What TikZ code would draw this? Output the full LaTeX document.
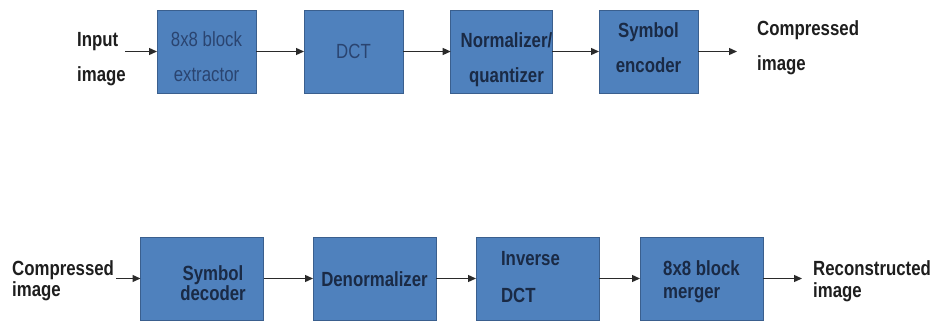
\documentclass[tikz,border=0pt]{standalone}
\usepackage{fontspec}
\setmainfont{Liberation Sans}[FakeStretch=0.82]
\usetikzlibrary{arrows.meta}
\definecolor{boxfill}{HTML}{4F81BD}
\definecolor{boxline}{HTML}{3A5F8E}
\definecolor{boxtext}{HTML}{1A2A45}
\definecolor{boxlight}{HTML}{2A4470}
\definecolor{outtext}{HTML}{1E1E1E}
\definecolor{arrowcol}{HTML}{2A2A2A}
\newcommand\MyTop[1]{\rule{0pt}{#1pt}}
\newcommand\MyBot[1]{\rule[-#1pt]{0pt}{#1pt}}
\tikzset{
  box/.style={draw=boxline, fill=boxfill, line width=1pt, inner sep=0pt, outer sep=0pt,
    align=center, text=boxtext, font=\fontsize{20.5}{35}\selectfont\bfseries},
  topbox/.style={box, minimum width=99pt, minimum height=83pt},
  botbox/.style={box, minimum width=123pt, minimum height=83pt},
  lighttext/.style={text=boxlight, font=\fontsize{20.5}{35}\selectfont\mdseries},
  outlabel/.style={inner sep=0pt, anchor=west, align=left, text=outtext},
  arr/.style={draw=arrowcol, line width=1.3pt, -{Triangle[length=8pt,width=7pt]}}
}
\begin{document}
\begin{tikzpicture}[x=1pt, y=-1pt]
\useasboundingbox (0,0) rectangle (930,322);
% top row
\node[outlabel, font=\fontsize{20.5}{35}\selectfont\bfseries] (in) at (77,58.5) {\MyTop{16}Input\\image\MyBot{6}};
\node[topbox, lighttext] (b1) at (206.5,51.5) {\MyTop{30}8x8 block\\extractor\MyBot{5}};
\node[topbox, lighttext] (b2) at (353.5,51.5) {\MyTop{17}DCT\MyBot{4}};
\node[topbox] (b3) at (501.5,51.5) {\MyTop{31}\hspace*{10pt}Normalizer/\\\hspace*{10pt}quantizer\MyBot{5}};
\node[topbox] (b4) at (648.5,51.5) {\MyTop{16}Symbol\\encoder\MyBot{10}};
\node[outlabel, font=\fontsize{20.5}{35}\selectfont\bfseries] (out) at (757,47.5) {\MyTop{16}Compressed\\image\MyBot{6}};
\coordinate (a0) at (125,51.5);
\coordinate (a5) at (737,51.5);
\draw[arr] (a0) -- (b1.west);
\draw[arr] (b1.east) -- (b2.west);
\draw[arr] (b2.east) -- (b3.west);
\draw[arr] (b3.east) -- (b4.west);
\draw[arr] (b4.east) -- (a5);
% bottom row
\node[outlabel, font=\fontsize{20.5}{21}\selectfont\bfseries] (cin) at (12,280.5) {\MyTop{16}Compressed\\image\MyBot{6}};
\node[botbox, font=\fontsize{20.5}{20}\selectfont\bfseries] (d1) at (202,278.5) {\hspace*{22pt}\MyTop{27}Symbol\\\hspace*{22pt}decoder\MyBot{4}};
\node[botbox] (d2) at (374.5,278.5) {\MyTop{19}Denormalizer\MyBot{4}};
\node[botbox, align=left, font=\fontsize{20.5}{37}\selectfont\bfseries] (d3) at (537.5,278.5) {\MyTop{16}Inverse\rule{14pt}{0pt}\\DCT\MyBot{6}};
\node[botbox, align=left, font=\fontsize{20.5}{23}\selectfont\bfseries] (d4) at (701.5,278.5) {\MyTop{21}8x8 block\\merger\MyBot{5}};
\node[outlabel, font=\fontsize{20.5}{22}\selectfont\bfseries] (rec) at (813,281) {\MyTop{16}Reconstructed\\image\MyBot{6}};
\coordinate (e0) at (116,278.5);
\coordinate (e5) at (802,278.5);
\draw[arr] (e0) -- (d1.west);
\draw[arr] (d1.east) -- (d2.west);
\draw[arr] (d2.east) -- (d3.west);
\draw[arr] (d3.east) -- (d4.west);
\draw[arr] (d4.east) -- (e5);
\end{tikzpicture}
\end{document}
